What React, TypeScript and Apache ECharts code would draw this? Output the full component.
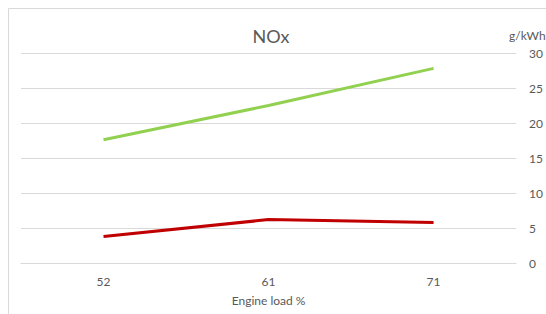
import React, { useEffect, useRef } from "react";
import * as echarts from "echarts";

const categories = ["52", "61", "71"];
const greenSeries = [17.6, 22.5, 27.8];
const redSeries = [3.8, 6.2, 5.8];
const yTicks = [0, 5, 10, 15, 20, 25, 30];

export default function App() {
  const ref = useRef<HTMLDivElement>(null);
  useEffect(() => {
    const chart = echarts.init(ref.current!, null, { renderer: "svg" });
    const font = "Lato, 'Open Sans', sans-serif";
    chart.setOption({
      animation: false,
      backgroundColor: "#ffffff",
      textStyle: { fontFamily: font },
      title: {
        text: "NOx",
        left: 266,
        top: 22,
        textAlign: "center",
        textStyle: { fontFamily: font, fontSize: 18, fontWeight: "normal", color: "#595959" },
      },
      graphic: [
        {
          type: "rect",
          shape: { x: 8.5, y: 8.5, width: 560, height: 330 },
          style: { fill: "none", stroke: "#d9d9d9", lineWidth: 1 },
          silent: true,
        },
        {
          type: "text",
          x: 509,
          y: 35,
          style: { text: "g/kWh", fontFamily: font, fontSize: 12, fill: "#595959", textVerticalAlign: "middle", verticalAlign: "middle" },
        },
      ],
      grid: { left: 21, right: 27, top: 53, bottom: 51, containLabel: false },
      xAxis: {
        type: "category",
        data: categories,
        boundaryGap: true,
        name: "Engine load %",
        nameLocation: "middle",
        nameGap: 31,
        nameTextStyle: { fontFamily: font, fontSize: 12, color: "#595959" },
        axisLine: { show: true, lineStyle: { color: "#d9d9d9", width: 1 } },
        axisTick: { show: false },
        axisLabel: { margin: 12, fontFamily: font, fontSize: 12, color: "#595959" },
      },
      yAxis: {
        type: "value",
        position: "right",
        min: 0,
        max: 30,
        interval: 5,
        axisLine: { show: false },
        axisTick: { show: false },
        splitLine: { lineStyle: { color: "#d9d9d9", width: 1 } },
        axisLabel: {
          margin: 13,
          fontFamily: font,
          fontSize: 12,
          color: "#595959",
          formatter: (v: number) => (yTicks.includes(v) ? String(v) : ""),
        },
      },
      series: [
        {
          type: "line",
          data: greenSeries,
          symbol: "none",
          lineStyle: { color: "#92d050", width: 3 },
        },
        {
          type: "line",
          data: redSeries,
          symbol: "none",
          lineStyle: { color: "#c00000", width: 3 },
        },
      ],
    });
    return () => chart.dispose();
  }, []);
  return (
    <div
      ref={ref}
      style={{ position: "fixed", left: 0, top: 0, width: 546, height: 314 }}
    />
  );
}
